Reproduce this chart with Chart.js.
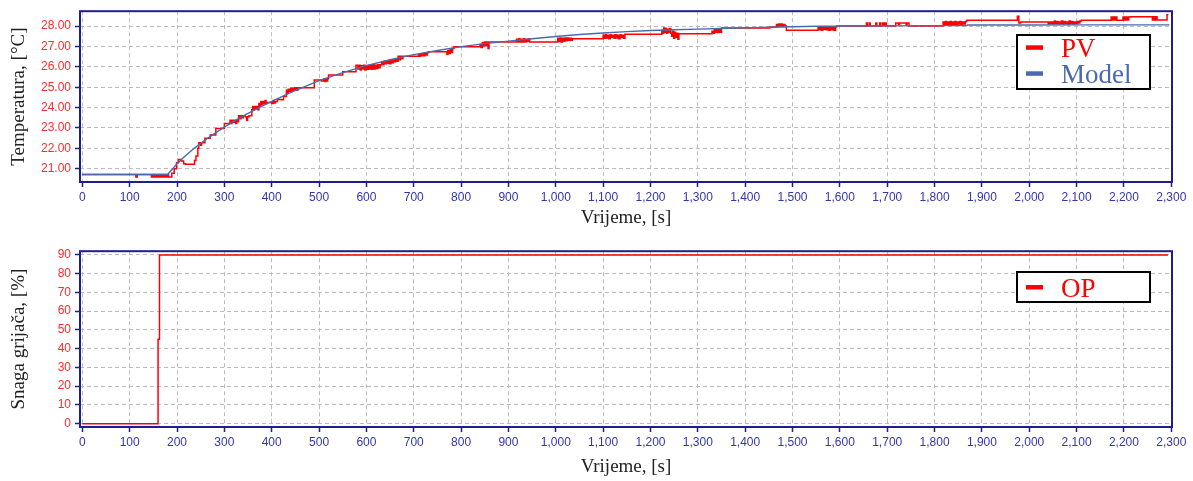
<!DOCTYPE html>
<html><head><meta charset="utf-8">
<script src="https://cdn.jsdelivr.net/npm/chart.js@4"></script>
<style>
html,body{margin:0;padding:0;background:#fff;}
#wrap{position:relative;width:1193px;height:481px;overflow:hidden;}
canvas{position:absolute;left:0;}
#c1{top:0}
#c2{top:240px}
</style></head><body>
<div id="wrap"><canvas id="c1" width="1193" height="240"></canvas><canvas id="c2" width="1193" height="241"></canvas></div>
<script>
// ---------- DATA ----------
const timeTicks = [0,100,200,300,400,500,600,700,800,900,1000,1100,1200,1300,1400,1500,1600,1700,1800,1900,2000,2100,2200,2300];
const tempTicks = [21,22,23,24,25,26,27,28];
const powerTicks = [0,10,20,30,40,50,60,70,80,90];

// PV: [time s, temperature °C] – value changes at given time (step signal)
const pvPoints = [
[0,20.72],[113,20.60],[116,20.72],
[146,20.60],[148,20.72],[150,20.60],[153,20.72],[155,20.60],[157,20.72],[159,20.60],[162,20.72],[164,20.60],[166,20.72],[168,20.60],[171,20.72],[173,20.60],[175,20.72],[177,20.60],[180,20.72],[182,20.60],
[189,20.78],[194,21.00],[199,21.30],[203,21.45],[209,21.38],[214,21.25],[218,21.22],[237,21.40],[240,21.63],[244,22.00],[246,22.27],[250,22.15],[252,22.27],[259,22.50],[270,22.66],[282,22.98],[300,23.22],
[312,23.38],[314,23.22],[316,23.38],[319,23.28],[321,23.38],[324,23.22],[326,23.38],[329,23.30],
[330,23.60],[333,23.45],[335,23.60],[338,23.50],[340,23.60],[344,23.55],[347,23.38],[349,23.55],[352,23.60],
[358,23.90],[360,24.05],[362,23.90],[364,24.05],[367,23.95],[369,24.05],[371,23.90],[373,24.20],[375,24.05],[377,24.30],[379,24.15],[381,24.30],[384,24.20],[386,24.35],[388,24.20],[390,24.25],
[400,24.20],[403,24.35],[405,24.22],[408,24.30],[412,24.40],[420,24.38],[425,24.55],[431,24.85],[433,24.70],[435,24.90],[437,24.80],[440,24.95],[442,24.80],[444,24.95],[447,24.85],[449,24.97],[452,24.85],[455,24.97],
[490,25.35],[505,25.30],[510,25.40],[512,25.28],[514,25.40],[516,25.30],[518,25.42],[520,25.60],[550,25.76],[578,26.08],
[582,25.90],[584,26.08],[587,25.85],[589,26.05],[592,25.90],[594,26.08],[597,25.85],[599,26.05],[602,25.88],[604,26.08],[607,25.90],[609,26.05],[612,25.88],[614,26.10],[617,25.90],[619,26.08],[622,25.92],[624,26.10],[627,25.95],[629,26.10],
[632,26.25],[634,26.12],[637,26.28],[639,26.15],[642,26.30],[644,26.18],[647,26.30],[649,26.15],[652,26.35],[654,26.20],[657,26.35],[659,26.25],[662,26.40],[664,26.28],[667,26.52],[670,26.35],[672,26.52],[675,26.40],[677,26.52],
[710,26.60],[712,26.52],[714,26.62],[717,26.55],[719,26.65],[722,26.55],[724,26.68],[727,26.58],[729,26.70],[732,26.74],
[770,26.62],[772,26.80],[775,26.65],[777,26.85],[780,26.70],[782,26.90],[785,26.98],
[840,27.10],[842,26.95],[845,27.20],[847,27.02],[850,27.22],[852,27.05],[855,27.22],[857,26.90],[859,27.22],
[917,27.35],[919,27.22],[922,27.38],[924,27.22],[927,27.35],[929,27.22],[932,27.38],[934,27.22],[937,27.35],[940,27.25],[943,27.38],[945,27.22],
[1004,27.40],[1006,27.25],[1009,27.42],[1011,27.22],[1014,27.40],[1016,27.25],[1019,27.42],[1021,27.28],[1024,27.42],[1027,27.30],[1030,27.40],[1033,27.30],[1035,27.38],
[1100,27.55],[1102,27.40],[1105,27.58],[1107,27.42],[1110,27.55],[1112,27.38],[1115,27.58],[1117,27.45],[1120,27.55],[1123,27.40],[1125,27.58],[1128,27.42],[1130,27.55],[1133,27.38],[1136,27.58],[1138,27.45],[1141,27.55],[1143,27.40],[1146,27.60],
[1224,27.80],[1226,27.65],[1228,27.90],[1230,27.70],[1232,27.88],[1234,27.65],[1236,27.85],[1238,27.70],[1240,27.88],[1243,27.65],[1245,27.50],[1247,27.75],[1249,27.40],[1251,27.70],[1253,27.45],[1255,27.65],[1258,27.35],[1260,27.62],
[1330,27.75],[1332,27.65],[1335,27.85],[1337,27.70],[1340,27.85],[1342,27.68],[1345,27.82],[1347,27.70],[1350,27.90],
[1452,27.95],[1466,28.08],[1468,27.98],[1471,28.10],[1473,28.00],[1476,28.10],[1478,27.98],[1481,28.08],[1484,28.00],[1487,27.80],
[1554,27.95],[1556,27.82],[1559,27.95],[1561,27.80],[1564,27.95],[1566,27.85],[1569,27.95],[1571,27.82],[1574,27.95],[1576,27.80],[1579,27.95],[1582,27.82],[1585,27.95],[1588,27.80],[1591,27.95],[1593,28.00],
[1656,28.15],[1658,28.00],[1662,28.15],[1664,28.00],[1676,28.15],[1678,28.00],[1684,28.15],[1686,28.00],[1690,28.15],[1692,28.02],[1695,28.15],[1698,28.00],
[1718,28.15],[1724,28.08],[1726,28.15],[1740,28.05],[1742,28.15],[1746,28.00],
[1818,28.20],[1820,28.05],[1823,28.22],[1825,28.05],[1828,28.20],[1830,28.08],[1833,28.22],[1835,28.05],[1838,28.20],[1840,28.08],[1843,28.22],[1845,28.05],[1848,28.20],[1850,28.10],[1853,28.22],[1856,28.05],[1859,28.20],[1862,28.10],[1865,28.22],[1868,28.28],
[1975,28.48],[1978,28.15],[1982,28.20],
[2040,28.10],[2042,28.20],[2045,28.12],[2047,28.20],[2050,28.10],[2053,28.25],[2055,28.12],[2058,28.22],[2060,28.10],[2063,28.20],[2066,28.12],[2068,28.25],[2071,28.10],[2074,28.22],[2076,28.12],[2079,28.20],[2082,28.08],[2084,28.25],[2087,28.12],[2090,28.22],[2092,28.10],[2095,28.20],[2098,28.12],[2101,28.22],[2104,28.15],[2107,28.25],[2110,28.28],
[2173,28.45],[2175,28.30],[2178,28.45],[2180,28.30],[2183,28.45],[2185,28.28],[2198,28.45],[2201,28.30],[2204,28.45],[2207,28.30],[2210,28.45],[2214,28.46],
[2260,28.30],[2262,28.46],[2265,28.30],[2268,28.46],[2270,28.30],[2291,28.55],[2294,28.55]
];

// Model: [time s, temperature °C]
const modelPoints = [
[0,20.72],[180,20.72],[190,20.98],[200,21.25],[215,21.58],[230,21.88],[250,22.25],[275,22.66],[300,23.04],[325,23.40],[350,23.72],[375,24.02],[400,24.30],[425,24.58],[450,24.84],[475,25.08],[500,25.32],
[550,25.72],[600,26.06],[650,26.35],[700,26.60],[750,26.80],[800,26.99],[850,27.14],[900,27.26],[950,27.38],[1000,27.49],[1050,27.59],[1100,27.66],[1150,27.73],[1200,27.78],[1250,27.82],[1300,27.85],[1350,27.88],[1400,27.91],[1450,27.94],[1500,27.97],[1550,27.99],[1600,28.00],[1700,28.01],[1800,28.02],[1868,28.02],[1870,28.05],[2000,28.05],[2100,28.06],[2296,28.06]
];

// OP: [time s, heater power %]
const opPoints = [[0,0],[160,0],[160,45],[163,45],[163,90],[2293,90]];

// ---------- CHART ----------
const NAVY = '#1e1e8c';
const fmtThousands = v => String(v).replace(/\B(?=(\d{3})+(?!\d))/g, ',');

const framePlugin = {
  id: 'frame',
  afterDatasetsDraw(chart) {
    const {ctx, chartArea: a} = chart;
    ctx.save();
    ctx.strokeStyle = NAVY; ctx.lineWidth = 2;
    ctx.strokeRect(a.left, a.top, a.right - a.left, a.bottom - a.top);
    ctx.restore();
  }
};

const boxLegendPlugin = {
  id: 'boxLegend',
  afterDraw(chart, args, opts) {
    const {ctx} = chart;
    ctx.save();
    ctx.fillStyle = '#fff';
    ctx.fillRect(opts.x, opts.y, opts.w, opts.h);
    ctx.strokeStyle = '#000'; ctx.lineWidth = 2;
    ctx.strokeRect(opts.x, opts.y, opts.w, opts.h);
    ctx.font = '27px "Liberation Serif", "Times New Roman", serif';
    ctx.textBaseline = 'alphabetic';
    chart.data.datasets.forEach((ds, i) => {
      const rowY = opts.firstRow + i * opts.rowGap;
      ctx.fillStyle = ds.legendColor || ds.borderColor;
      ctx.fillRect(opts.x + 9, rowY - 2.5, 17, 4.5);
      ctx.fillText(ds.label, opts.x + 44, rowY + 9);
    });
    ctx.restore();
  }
};

function xScale(titlePadBottom, height) {
  return {
    type: 'linear', min: -4.9, max: 2301.5,
    afterBuildTicks: s => { s.ticks = timeTicks.map(v => ({value: v})); },
    afterFit: s => { s.height = height; },
    ticks: {color: '#3434b0', font: {family: '"Liberation Sans", Arial, sans-serif', size: 12}, padding: 3, maxRotation: 0, autoSkip: false, callback: v => fmtThousands(v)},
    grid: {color: '#bcbcbc', lineWidth: 1, tickColor: NAVY, tickLength: 5, tickWidth: 1.5, tickBorderDash: []},
    border: {display: false, dash: [4, 3]},
    title: {display: true, text: 'Vrijeme, [s]', color: '#222', font: {family: '"Liberation Serif", "Times New Roman", serif', size: 19}, padding: {top: 0, bottom: titlePadBottom}}
  };
}

function yScale(min, max, ticks, fmt, title) {
  return {
    type: 'linear', min: min, max: max,
    afterBuildTicks: s => { s.ticks = ticks.map(v => ({value: v})); },
    afterFit: s => { s.width = 80; },
    ticks: {color: '#ff2a2a', font: {family: '"Liberation Sans", Arial, sans-serif', size: 12}, padding: 4, autoSkip: false, callback: fmt},
    grid: {color: '#bcbcbc', lineWidth: 1, tickColor: NAVY, tickLength: 5, tickWidth: 1.5, tickBorderDash: []},
    border: {display: false, dash: [4, 3]},
    title: {display: true, text: title, color: '#222', font: {family: '"Liberation Serif", "Times New Roman", serif', size: 19}, padding: {top: 8, bottom: 0}}
  };
}

const toXY = arr => arr.map(p => ({x: p[0], y: p[1]}));

new Chart(document.getElementById('c1'), {
  type: 'line',
  data: {datasets: [
    {label: 'PV', data: toXY(pvPoints), borderColor: '#ff0000', borderWidth: 1.5, pointRadius: 0, stepped: 'before', order: 2},
    {label: 'Model', data: toXY(modelPoints), borderColor: '#4a6aae', borderWidth: 1.4, pointRadius: 0, order: 1}
  ]},
  options: {
    responsive: false, animation: false, parsing: false, normalized: true,
    layout: {padding: {top: 6, right: 21, left: 0, bottom: 0}},
    plugins: {legend: {display: false}, tooltip: {enabled: false},
      boxLegend: {x: 1017, y: 35, w: 133, h: 54, firstRow: 47.8, rowGap: 26}},
    scales: {
      x: xScale(10.6, 58),
      y: yScale(20.35, 28.73, tempTicks, v => v.toFixed(2), 'Temperatura, [°C]')
    }
  },
  plugins: [framePlugin, boxLegendPlugin]
});

new Chart(document.getElementById('c2'), {
  type: 'line',
  data: {datasets: [
    {label: 'OP', data: toXY(opPoints), borderColor: '#ff0000', borderWidth: 1.5, pointRadius: 0}
  ]},
  options: {
    responsive: false, animation: false, parsing: false,
    layout: {padding: {top: 11, right: 21, left: 0, bottom: 0}},
    plugins: {legend: {display: false}, tooltip: {enabled: false},
      boxLegend: {x: 1017, y: 32, w: 133, h: 30, firstRow: 47.5, rowGap: 26}},
    scales: {
      x: xScale(2.6, 54),
      y: yScale(-1.8, 92, powerTicks, v => String(v), 'Snaga grijača, [%]')
    }
  },
  plugins: [framePlugin, boxLegendPlugin]
});
</script>
</body></html>
